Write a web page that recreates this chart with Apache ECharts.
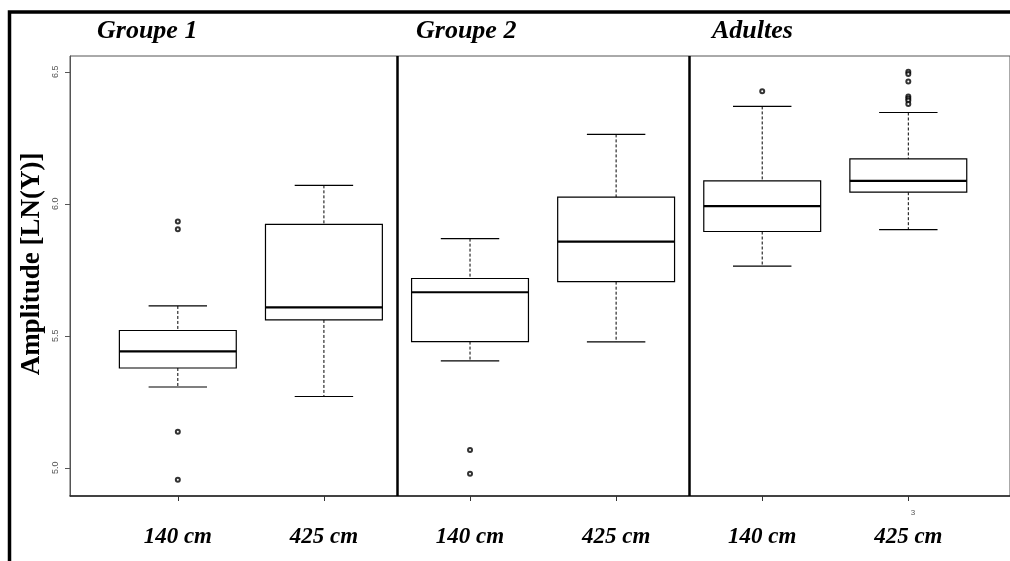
<!DOCTYPE html>
<html>
<head>
<meta charset="utf-8">
<script src="https://cdn.jsdelivr.net/npm/echarts@6/dist/echarts.min.js"></script>
<style>
html,body{margin:0;padding:0;background:#fff;}
#chart{width:1010px;height:561px;}
</style>
</head>
<body>
<div id="chart"></div>
<script>
// ---- data ----
const categories = ['140 cm', '425 cm', '140 cm', '425 cm', '140 cm', '425 cm'];
const groupTitles = ['Groupe 1', 'Groupe 2', 'Adultes'];
const positions = [1, 2, 3, 4, 5, 6];
const lowerWhisker = [5.306, 5.270, 5.405, 5.477, 5.764, 5.902];
const q1 = [5.378, 5.560, 5.478, 5.705, 5.895, 6.044];
const median = [5.441, 5.608, 5.665, 5.857, 5.991, 6.087];
const q3 = [5.520, 5.922, 5.717, 6.025, 6.087, 6.170];
const upperWhisker = [5.613, 6.070, 5.868, 6.263, 6.369, 6.346];
const outlierPos = [1, 1, 1, 1, 3, 3, 5, 6, 6, 6, 6, 6, 6, 6];
const outlierVal = [5.933, 5.904, 5.136, 4.955, 5.067, 4.977, 6.426, 6.500, 6.492, 6.463, 6.407, 6.399, 6.391, 6.378];
const separators = [2.5, 4.5];
const yTicks = [5.0, 5.5, 6.0, 6.5];
const yTitle = 'Amplitude [LN(Y)]';
const strayLabel = '3';

// ---- build ----
const boxData = positions.map((p, i) => [p, lowerWhisker[i], q1[i], median[i], q3[i], upperWhisker[i]]);
const outlierData = outlierPos.map((p, i) => [p, outlierVal[i]]);

const BOX_HALF = 0.4, CAP_HALF = 0.2;

function renderBox(params, api) {
  const x = api.value(0);
  const lw = api.value(1), a = api.value(2), m = api.value(3), b = api.value(4), uw = api.value(5);
  const pL = api.coord([x - BOX_HALF, b]);
  const pR = api.coord([x + BOX_HALF, a]);
  const c = api.coord([x, m]);
  const yLw = api.coord([x, lw])[1], yA = api.coord([x, a])[1], yB = api.coord([x, b])[1], yUw = api.coord([x, uw])[1];
  const capL = api.coord([x - CAP_HALF, uw])[0], capR = api.coord([x + CAP_HALF, uw])[0];
  const solid = {stroke: '#000', lineWidth: 1.2, fill: null};
  const dashed = {stroke: '#000', lineWidth: 1, lineDash: [3, 2]};
  return {
    type: 'group',
    children: [
      {type: 'line', shape: {x1: c[0], y1: yUw, x2: c[0], y2: yB}, style: dashed},
      {type: 'line', shape: {x1: c[0], y1: yA, x2: c[0], y2: yLw}, style: dashed},
      {type: 'line', shape: {x1: capL, y1: yUw, x2: capR, y2: yUw}, style: solid},
      {type: 'line', shape: {x1: capL, y1: yLw, x2: capR, y2: yLw}, style: solid},
      {type: 'rect', shape: {x: pL[0], y: pL[1], width: pR[0] - pL[0], height: pR[1] - pL[1]}, style: {stroke: '#000', lineWidth: 1.2, fill: '#fff'}},
      {type: 'line', shape: {x1: pL[0], y1: c[1], x2: pR[0], y2: c[1]}, style: {stroke: '#000', lineWidth: 2.2}}
    ]
  };
}

const chart = echarts.init(document.getElementById('chart'), null, {renderer: 'canvas'});
const titleXs = [97, 416, 712];

chart.setOption({
  animation: false,
  backgroundColor: '#fff',
  grid: {left: 70, top: 56, bottom: 65, right: -2, show: true, borderColor: '#555', borderWidth: 1, backgroundColor: 'transparent'},
  xAxis: {
    type: 'value', min: 0.262, max: 6.696,
    splitLine: {show: false},
    axisLine: {show: true, lineStyle: {color: '#222', width: 1.5}},
    axisTick: {show: true, length: 5, customValues: positions, lineStyle: {color: '#333', width: 1}},
    axisLabel: {
      show: true, customValues: positions, margin: 30,
      formatter: v => categories[Math.round(v) - 1] || '',
      fontFamily: 'Liberation Serif', fontStyle: 'italic', fontWeight: 'bold', fontSize: 23, color: '#000'
    }
  },
  yAxis: {
    type: 'value', min: 4.893, max: 6.56,
    splitLine: {show: false},
    axisLine: {show: true, lineStyle: {color: '#555', width: 1}},
    axisTick: {show: true, length: 5, customValues: yTicks, lineStyle: {color: '#555'}},
    axisLabel: {
      show: true, customValues: yTicks, rotate: 90, margin: 10,
      formatter: v => v.toFixed(1),
      fontFamily: 'Liberation Sans', fontSize: 9, color: '#555'
    }
  },
  series: [
    {
      type: 'custom', renderItem: renderBox, data: boxData,
      encode: {x: 0, y: [1, 2, 3, 4, 5]}, z: 3,
      markLine: {
        silent: true, symbol: ['none', 'none'], label: {show: false},
        lineStyle: {color: '#000', width: 2.5, type: 'solid'},
        data: separators.map(s => ({xAxis: s}))
      }
    },
    {
      type: 'scatter', data: outlierData, symbol: 'emptyCircle', symbolSize: 4,
      itemStyle: {color: '#000', borderColor: '#000', borderWidth: 0.9}, z: 4
    }
  ],
  graphic: [
    {type: 'polyline', shape: {points: [[9.5, 561], [9.5, 12], [1012, 12]]}, style: {stroke: '#000', lineWidth: 3.5, fill: null}},
    ...groupTitles.map((t, i) => ({
      type: 'text', x: titleXs[i], y: 31,
      style: {text: t, font: 'italic bold 26px "Liberation Serif"', fill: '#000', textVerticalAlign: 'middle'}
    })),
    {type: 'text', x: 32, y: 264, rotation: Math.PI / 2,
      style: {text: yTitle, font: 'bold 27px "Liberation Serif"', fill: '#000', textAlign: 'center', textVerticalAlign: 'middle'}},
    {type: 'text', x: 913, y: 513, style: {text: strayLabel, font: '8px "Liberation Sans"', fill: '#555', textAlign: 'center', textVerticalAlign: 'middle'}}
  ]
});
</script>
</body>
</html>
